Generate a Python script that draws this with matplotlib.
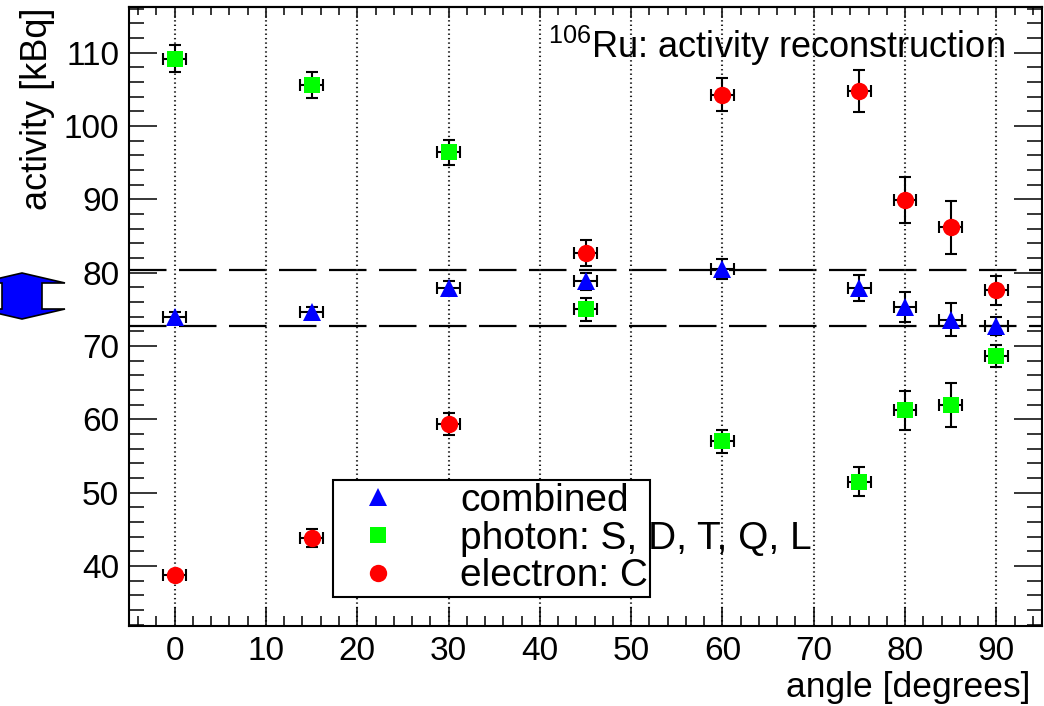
import matplotlib
matplotlib.use("Agg")
import matplotlib.pyplot as plt
from matplotlib.lines import Line2D
from matplotlib.patches import Polygon
from matplotlib.ticker import MultipleLocator

plt.rcParams['font.family'] = ['Liberation Sans', 'DejaVu Sans']
plt.rcParams['mathtext.fontset'] = 'custom'
plt.rcParams['mathtext.rm'] = 'Liberation Sans'
plt.rcParams['lines.scale_dashes'] = False

# data
angles = [0, 15, 30, 45, 60, 75, 80, 85, 90]
angle_err = [1.25] * 9

combined = [74.0, 74.7, 77.9, 78.8, 80.5, 77.9, 75.3, 73.6, 72.7]
combined_err = [0.7, 0.6, 1.0, 1.2, 1.4, 1.8, 2.0, 2.3, 1.2]

photon = [109.2, 105.6, 96.4, 75.0, 57.0, 51.5, 61.2, 61.9, 68.6]
photon_err = [1.8, 1.8, 1.7, 1.6, 1.6, 2.0, 2.6, 3.0, 1.5]

electron = [38.7, 43.8, 59.3, 82.7, 104.3, 104.8, 89.9, 86.2, 77.6]
electron_err = [0.5, 1.2, 1.5, 1.8, 2.3, 2.9, 3.1, 3.6, 2.0]

band_high = 80.3
band_low = 72.7

series = [
    ("combined", combined, combined_err, "^", "blue", 13.5),
    ("photon: S, D, T, Q, L", photon, photon_err, "s", "#00ff00", 12),
    ("electron: C", electron, electron_err, "o", "red", 12.5),
]

W, H = 1044, 706
fig = plt.figure(figsize=(W / 100, H / 100), dpi=100)
ax = fig.add_axes([129 / W, (H - 626) / H, (1042 - 129) / W, (626 - 7.3) / H])

ax.set_xlim(-5, 95)
ax.set_ylim(31.8, 116.2)

# dashed band
for yv in (band_high, band_low):
    ax.axhline(yv, color='black', lw=1.6, dashes=(27, 9), zorder=1)

ax.xaxis.set_major_locator(MultipleLocator(10))
ax.xaxis.set_minor_locator(MultipleLocator(2))
ax.yaxis.set_major_locator(MultipleLocator(10))
ax.yaxis.set_minor_locator(MultipleLocator(2))
ax.set_yticks([40, 50, 60, 70, 80, 90, 100, 110])

ax.grid(axis='x', which='major', color='#222222', linestyle=(0, (1, 2.2)), linewidth=1.5)

handles = []
for label, vals, errs, mk, col, ms in series:
    ax.errorbar(angles, vals, xerr=angle_err, yerr=errs, fmt='none', ecolor='black',
                elinewidth=1.5, capsize=4.5, capthick=1.5, zorder=3)
    ax.plot(angles, vals, ls='none', marker=mk, color=col, ms=ms, mew=0, zorder=4)
    handles.append(Line2D([], [], ls='none', marker=mk, color=col, ms=ms, mew=0, label=label))

for s in ax.spines.values():
    s.set_linewidth(1.5)

ax.tick_params(which='both', direction='in', right=True, top=False, width=1.1,
               labelsize=24, pad=7)
ax.tick_params(axis='y', which='major', length=20)
ax.tick_params(axis='y', which='minor', length=11)
ax.tick_params(axis='x', which='major', length=14)
ax.tick_params(axis='x', which='minor', length=7)

top = ax.secondary_xaxis('top')
top.xaxis.set_major_locator(MultipleLocator(10))
top.xaxis.set_minor_locator(MultipleLocator(2))
top.tick_params(which='both', direction='in', labeltop=False, width=1.1)
top.tick_params(which='major', length=8)
top.tick_params(which='minor', length=5.5)
top.spines['top'].set_linewidth(1.5)

ax.set_xlabel('angle [degrees]', fontsize=25.5, loc='right')
ax.xaxis.set_label_coords(0.987, -0.073)
ax.set_ylabel('activity [kBq]', fontsize=26, loc='top', labelpad=6)

ax.text(0.9595, 0.918, r'$^{\mathrm{106}}$Ru: activity reconstruction', transform=ax.transAxes,
        ha='right', va='baseline', fontsize=26)

leg = ax.legend(handles=handles, loc='upper left', mode='expand',
                bbox_to_anchor=(0.2234, 0.0485, 0.3473, 0.1875),
                fontsize=28, frameon=True, fancybox=False, framealpha=1,
                edgecolor='black', borderpad=0.08, labelspacing=0.04,
                handlelength=2.16, handletextpad=1.03, borderaxespad=0)
leg.get_frame().set_linewidth(1.5)
leg.set_zorder(5)

# blue double arrow left of the axes, in pixel units
arrow_px = [(22, 273), (65, 283), (42, 283), (42, 309), (65, 309), (22, 319),
            (-21, 309), (2, 309), (2, 283), (-21, 283)]
fig.patches.append(Polygon([(x / W, (H - y) / H) for x, y in arrow_px], closed=True,
                           facecolor='blue', edgecolor='black', lw=1.2,
                           transform=fig.transFigure))

fig.savefig('out.png', dpi=100)
